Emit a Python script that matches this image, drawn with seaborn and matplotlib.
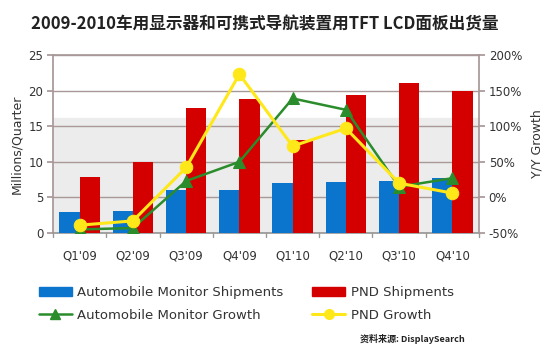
import numpy as np
import pandas as pd
import matplotlib
matplotlib.use("Agg")
import matplotlib.pyplot as plt
from matplotlib.patches import Patch
from matplotlib.lines import Line2D
import seaborn as sns

quarters = ["Q1'09", "Q2'09", "Q3'09", "Q4'09", "Q1'10", "Q2'10", "Q3'10", "Q4'10"]
auto_ship = [2.9, 3.1, 6.1, 6.1, 7.0, 7.2, 7.35, 7.7]
pnd_ship = [7.8, 10.0, 17.5, 18.8, 13.1, 19.4, 21.1, 19.9]
auto_growth = [-45, -43, 23, 50, 139, 123, 15, 27]
pnd_growth = [-39, -33, 42, 173, 72, 97, 20, 6]
left_ticks = [0, 5, 10, 15, 20, 25]
right_ticks = [-50, 0, 50, 100, 150, 200]

sns.set_theme(style="white")
plt.rcParams['font.family'] = ['DejaVu Sans', 'Noto Sans CJK SC']

blue = "#0b74cc"
red = "#d40000"
green = "#2b8c2b"
yellow = "#ffe81a"
gridc = "#a89898"

fig = plt.figure(figsize=(5.5, 3.51), dpi=100)
ax = fig.add_axes([53/550, 1-233/351, (479-53)/550, (233-55)/351])

df = pd.DataFrame({
    "quarter": quarters * 2,
    "value": auto_ship + pnd_ship,
    "series": ["Automobile Monitor Shipments"] * 8 + ["PND Shipments"] * 8,
})
ax.axhspan(0, 16.2, color="#ececec", zorder=0)
sns.barplot(data=df, x="quarter", y="value", hue="series", palette=[blue, red],
            width=0.76, gap=0, ax=ax, legend=False, zorder=3, saturation=1,
            linewidth=0, edgecolor="none")
ax.set_ylim(0, 25)
ax.set_xlim(-0.5, 7.5)
ax.set_yticks(left_ticks)
ax.grid(axis="y", color=gridc, linewidth=1.0, zorder=1)
ax.set_axisbelow(True)
ax.set_xlabel("")
ax.set_ylabel("Millions/Quarter", fontsize=9, color="#333333", labelpad=4)
for s in ["left", "right", "top"]:
    ax.spines[s].set_color(gridc)
ax.spines["bottom"].set_color("#999999")
ax.tick_params(axis="y", labelsize=8.5, colors="#333333", length=4, color=gridc, left=True, pad=3)
ax.set_xticks(np.arange(8))
ax.set_xticklabels(quarters)
ax.tick_params(axis="x", labelsize=8.5, colors="#333333", length=0, pad=12)
for xb in np.arange(-0.5, 8, 1):
    ax.plot([xb, xb], [0, -0.5], color="#999999", lw=1, clip_on=False, zorder=5)

ax2 = ax.twinx()
x = np.arange(8)
sns.lineplot(x=x, y=auto_growth, ax=ax2, color=green, lw=1.8, marker="^",
             markersize=9, markeredgecolor=green, zorder=5)
sns.lineplot(x=x, y=pnd_growth, ax=ax2, color=yellow, lw=2.2, marker="o",
             markersize=9, markeredgecolor=yellow, zorder=6)
ax2.set_ylim(-50, 200)
ax2.set_yticks(right_ticks)
ax2.set_yticklabels([f"{v}%" for v in right_ticks])
ax2.tick_params(axis="y", labelsize=8.5, colors="#333333", length=4, color=gridc, right=True, pad=3)
ax2.set_ylabel("Y/Y Growth", fontsize=9, color="#333333", labelpad=6)
ax2.grid(False)
for s in ["left", "right", "top", "bottom"]:
    ax2.spines[s].set_visible(False)
ax.set_xlim(-0.5, 7.5)

fig.text(31/550, 1-24/351, "2009-2010车用显示器和可携式导航装置用TFT LCD面板出货量",
         fontsize=12, fontweight="bold", color="#222222", va="center",
         family=['Noto Sans CJK SC', 'DejaVu Sans'])

handles = [
    Patch(facecolor=blue, edgecolor=blue),
    Line2D([0], [0], color=green, lw=1.8, marker="^", markersize=7),
    Patch(facecolor=red, edgecolor=red),
    Line2D([0], [0], color=yellow, lw=2.2, marker="o", markersize=7),
]
labels = ["Automobile Monitor Shipments", "Automobile Monitor Growth",
          "PND Shipments", "PND Growth"]
fig.legend(handles, labels, ncol=2, loc="upper left", bbox_to_anchor=(27/550, 1-274/351),
           frameon=False, fontsize=9.5, handlelength=2.5, handleheight=0.7,
           columnspacing=2.2, labelspacing=0.75, handletextpad=0.4, labelcolor="#333333")

fig.text(360/550, 1-339/351, "资料来源: DisplaySearch", fontsize=6.5, fontweight="bold",
         color="#222222", va="center", family=['Noto Sans CJK SC', 'DejaVu Sans'])

fig.savefig("out.png", dpi=100)
